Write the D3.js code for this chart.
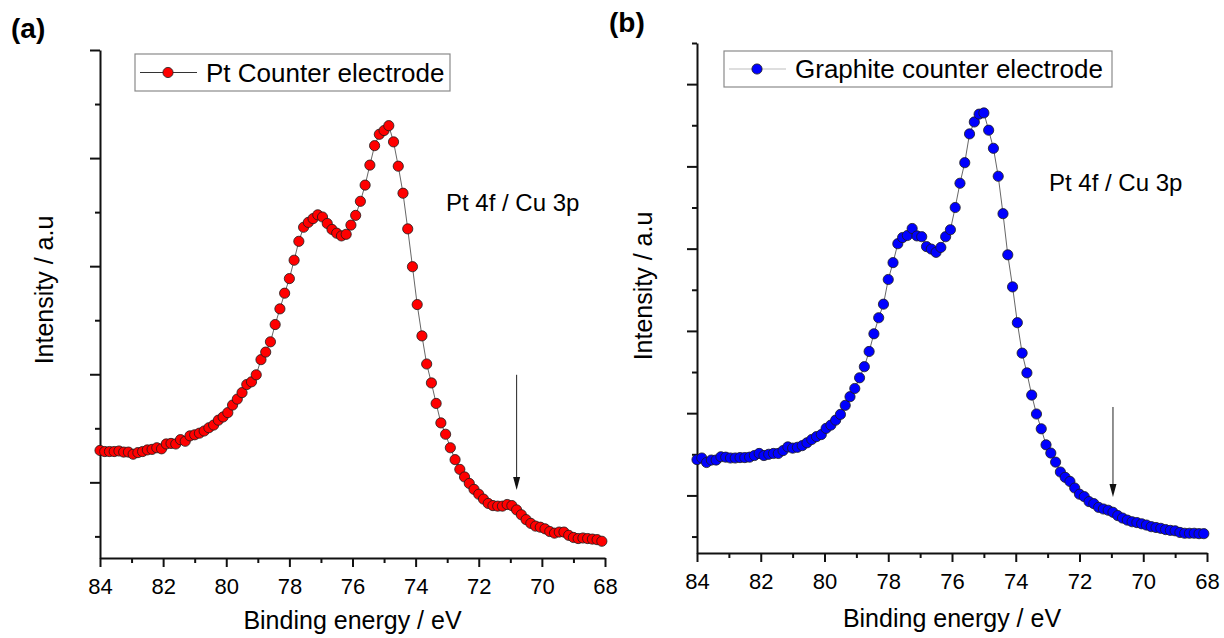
<!DOCTYPE html>
<html>
<head>
<meta charset="utf-8">
<script src="https://cdn.jsdelivr.net/npm/d3@7"></script>
<style>
  html, body { margin: 0; padding: 0; background: #fff; }
  svg { display: block; }
  text { font-family: "Liberation Sans", Arial, sans-serif; fill: #000; }
</style>
</head>
<body>
<svg id="chart" width="1224" height="638"></svg>
<script>
// Binding energy grid (eV), shared by both spectra
const energy = [
  84.00, 83.85, 83.70, 83.55, 83.40, 83.25, 83.10, 82.95, 82.80, 82.65,
  82.50, 82.35, 82.20, 82.05, 81.90, 81.75, 81.60, 81.45, 81.30, 81.15,
  81.00, 80.85, 80.70, 80.55, 80.40, 80.25, 80.10, 79.95, 79.80, 79.65,
  79.50, 79.35, 79.20, 79.05, 78.90, 78.75, 78.60, 78.45, 78.30, 78.15,
  78.00, 77.85, 77.70, 77.55, 77.40, 77.25, 77.10, 76.95, 76.80, 76.65,
  76.50, 76.35, 76.20, 76.05, 75.90, 75.75, 75.60, 75.45, 75.30, 75.15,
  75.00, 74.85, 74.70, 74.55, 74.40, 74.25, 74.10, 73.95, 73.80, 73.65,
  73.50, 73.35, 73.20, 73.05, 72.90, 72.75, 72.60, 72.45, 72.30, 72.15,
  72.00, 71.85, 71.70, 71.55, 71.40, 71.25, 71.10, 70.95, 70.80, 70.65,
  70.50, 70.35, 70.20, 70.05, 69.90, 69.75, 69.60, 69.45, 69.30, 69.15,
  69.00, 68.85, 68.70, 68.55, 68.40, 68.25, 68.10
];

// Pt 4f / Cu 3p intensity (a.u.) with the Pt counter electrode
const ptCounter = [
  2.59, 2.57, 2.57, 2.57, 2.58, 2.56, 2.56, 2.52, 2.55, 2.57,
  2.60, 2.61, 2.64, 2.62, 2.71, 2.72, 2.71, 2.79, 2.76, 2.86,
  2.88, 2.91, 2.95, 3.01, 3.06, 3.15, 3.21, 3.29, 3.43, 3.54,
  3.66, 3.81, 3.86, 3.99, 4.27, 4.41, 4.60, 4.92, 5.21, 5.50,
  5.77, 6.11, 6.46, 6.72, 6.81, 6.88, 6.95, 6.91, 6.79, 6.68,
  6.61, 6.56, 6.59, 6.76, 6.94, 7.20, 7.50, 7.87, 8.23, 8.44,
  8.51, 8.60, 8.30, 7.85, 7.35, 6.69, 5.99, 5.29, 4.71, 4.19,
  3.84, 3.46, 3.10, 2.89, 2.64, 2.42, 2.24, 2.10, 1.98, 1.87,
  1.78, 1.69, 1.61, 1.57, 1.56, 1.56, 1.59, 1.57, 1.49, 1.40,
  1.31, 1.24, 1.19, 1.17, 1.14, 1.09, 1.06, 1.08, 1.08, 1.02,
  0.98, 0.96, 0.97, 0.96, 0.95, 0.94, 0.91
];

// Pt 4f / Cu 3p intensity (a.u.) with the graphite counter electrode
const graphiteCounter = [
  2.87, 2.91, 2.80, 2.86, 2.86, 2.94, 2.93, 2.91, 2.91, 2.92,
  2.92, 2.93, 2.97, 3.02, 2.97, 3.00, 3.02, 3.02, 3.09, 3.18,
  3.15, 3.17, 3.21, 3.28, 3.36, 3.43, 3.48, 3.63, 3.71, 3.83,
  3.97, 4.19, 4.40, 4.60, 4.86, 5.13, 5.50, 5.93, 6.32, 6.65,
  7.25, 7.66, 8.12, 8.27, 8.32, 8.49, 8.31, 8.29, 8.05, 7.99,
  7.91, 8.03, 8.29, 8.46, 9.00, 9.59, 10.09, 10.79, 11.08, 11.27,
  11.30, 10.88, 10.44, 9.76, 8.85, 7.85, 7.07, 6.20, 5.46, 4.98,
  4.44, 3.98, 3.62, 3.23, 3.03, 2.81, 2.57, 2.44, 2.34, 2.18,
  2.03, 1.97, 1.85, 1.80, 1.71, 1.67, 1.64, 1.59, 1.51, 1.45,
  1.40, 1.36, 1.34, 1.31, 1.28, 1.24, 1.22, 1.20, 1.17, 1.15,
  1.14, 1.10, 1.08, 1.08, 1.08, 1.07, 1.07
];

// Axis ticks
const xMajorTicks = [84, 82, 80, 78, 76, 74, 72, 70, 68];
const xMinorTicks = [83, 81, 79, 77, 75, 73, 71, 69];
const yMajorTicksA = [2, 4, 6, 8, 10];
const yMinorTicksA = [1, 3, 5, 7, 9];
const yMajorTicksB = [2, 4, 6, 8, 10, 12];
const yMinorTicksB = [1, 3, 5, 7, 9, 11, 13];

// Marker arrows pointing at the shoulder near 71 eV: [energy, from, to]
const arrowA = [70.8, 3.99, 1.86];
const arrowB = [70.95, 4.15, 1.96];

const svg = d3.select("#chart");

function drawPanel(p) {
  const x = d3.scaleLinear().domain([84, 68]).range([p.left, p.right]);
  const y = d3.scaleLinear().domain(p.yDomain).range([p.bottom, p.top]);
  const g = svg.append("g");

  // bottom axis: labelled majors + short minors
  const gx = g.append("g")
    .attr("transform", `translate(0,${p.bottom})`)
    .call(d3.axisBottom(x).tickValues(xMajorTicks).tickSize(9)
      .tickSizeOuter(0).tickPadding(11).tickFormat(d3.format("d")));
  gx.select(".domain").attr("stroke", "#111").attr("stroke-width", 2);
  gx.selectAll(".tick line").attr("stroke", "#111").attr("stroke-width", 2);
  gx.selectAll(".tick text")
    .attr("font-size", 22)
    .style("font-family", "'Liberation Sans', Arial, sans-serif")
    .attr("fill", "#111");
  const gxm = g.append("g")
    .attr("transform", `translate(0,${p.bottom})`)
    .call(d3.axisBottom(x).tickValues(xMinorTicks).tickSize(5)
      .tickSizeOuter(0).tickFormat(""));
  gxm.select(".domain").remove();
  gxm.selectAll(".tick line").attr("stroke", "#111").attr("stroke-width", 2);

  // left axis: unlabelled majors + minors
  const gy = g.append("g")
    .attr("transform", `translate(${p.left},0)`)
    .call(d3.axisLeft(y).tickValues(p.yMajor).tickSize(10)
      .tickSizeOuter(0).tickFormat(""));
  gy.select(".domain").attr("stroke", "#111").attr("stroke-width", 2);
  gy.selectAll(".tick line").attr("stroke", "#111").attr("stroke-width", 2);
  const gym = g.append("g")
    .attr("transform", `translate(${p.left},0)`)
    .call(d3.axisLeft(y).tickValues(p.yMinor).tickSize(5)
      .tickSizeOuter(0).tickFormat(""));
  gym.select(".domain").remove();
  gym.selectAll(".tick line").attr("stroke", "#111").attr("stroke-width", 2);

  // axis titles
  g.append("text")
    .attr("x", (p.left + p.right) / 2).attr("y", p.xTitleY)
    .attr("text-anchor", "middle").attr("font-size", 25)
    .attr("fill", "#111")
    .text("Binding energy / eV");
  g.append("text")
    .attr("transform", `translate(${p.yTitleX},${p.yTitleMid}) rotate(-90)`)
    .attr("text-anchor", "middle").attr("font-size", 25)
    .attr("fill", "#111")
    .text("Intensity / a.u");

  // spectrum
  const pts = energy.map((e, i) => ({ e, v: p.values[i] }));
  g.append("path")
    .datum(pts)
    .attr("fill", "none")
    .attr("stroke", "#555")
    .attr("stroke-width", 0.9)
    .attr("d", d3.line().x(d => x(d.e)).y(d => y(d.v)));
  g.append("g").selectAll("circle")
    .data(pts).join("circle")
    .attr("cx", d => x(d.e)).attr("cy", d => y(d.v))
    .attr("r", 5.1)
    .attr("fill", p.color)
    .attr("stroke", "#1a1a1a").attr("stroke-width", 0.8);

  // arrow marking the shoulder
  const [ae, a0, a1] = p.arrow;
  const ax = x(ae), ay0 = y(a0), ay1 = y(a1);
  g.append("line")
    .attr("x1", ax).attr("x2", ax).attr("y1", ay0).attr("y2", ay1 - 10)
    .attr("stroke", "#222").attr("stroke-width", 1);
  g.append("path")
    .attr("d", `M${ax - 3.5},${ay1 - 13} L${ax + 3.5},${ay1 - 13} L${ax},${ay1} Z`)
    .attr("fill", "#111");

  // peak annotation
  g.append("text")
    .attr("x", p.noteX).attr("y", p.noteY)
    .attr("font-size", 24).attr("fill", "#111")
    .text("Pt 4f / Cu 3p");

  // legend
  const L = p.legend;
  g.append("rect")
    .attr("x", L.x).attr("y", L.y).attr("width", L.w).attr("height", L.h)
    .attr("fill", "#fff").attr("stroke", "#8a8a8a").attr("stroke-width", 1.2);
  const cy = L.y + L.h / 2;
  g.append("line")
    .attr("x1", L.x + 5).attr("x2", L.x + 62).attr("y1", cy).attr("y2", cy)
    .attr("stroke", L.lineColor).attr("stroke-width", 1.2);
  g.append("circle")
    .attr("cx", L.x + 33).attr("cy", cy).attr("r", 5.1)
    .attr("fill", p.color).attr("stroke", "#1a1a1a").attr("stroke-width", 0.8);
  g.append("text")
    .attr("x", L.x + 71).attr("y", cy + 9)
    .attr("font-size", 26).attr("fill", "#111")
    .text(p.label);

  // panel letter
  g.append("text")
    .attr("x", p.tagX).attr("y", p.tagY)
    .attr("font-size", p.tagSize).attr("font-weight", "bold")
    .attr("fill", "#111")
    .text(p.tag);
}

drawPanel({
  left: 100, right: 605, top: 50, bottom: 558,
  yDomain: [0.6, 10], yMajor: yMajorTicksA, yMinor: yMinorTicksA,
  values: ptCounter, color: "#ff0000",
  label: "Pt Counter electrode",
  legend: { x: 135, y: 54, w: 315, h: 37, lineColor: "#333" },
  arrow: arrowA,
  noteX: 446, noteY: 211,
  xTitleY: 629, yTitleX: 53, yTitleMid: 290,
  tag: "(a)", tagX: 11, tagY: 38, tagSize: 28
});

drawPanel({
  left: 697, right: 1207, top: 43, bottom: 553,
  yDomain: [0.6, 13], yMajor: yMajorTicksB, yMinor: yMinorTicksB,
  values: graphiteCounter, color: "#0000ff",
  label: "Graphite counter electrode",
  legend: { x: 724, y: 51, w: 388, h: 36, lineColor: "#bdbdbd" },
  arrow: arrowB,
  noteX: 1049, noteY: 191,
  xTitleY: 627, yTitleX: 652, yTitleMid: 286,
  tag: "(b)", tagX: 609, tagY: 32, tagSize: 28
});
</script>
</body>
</html>
